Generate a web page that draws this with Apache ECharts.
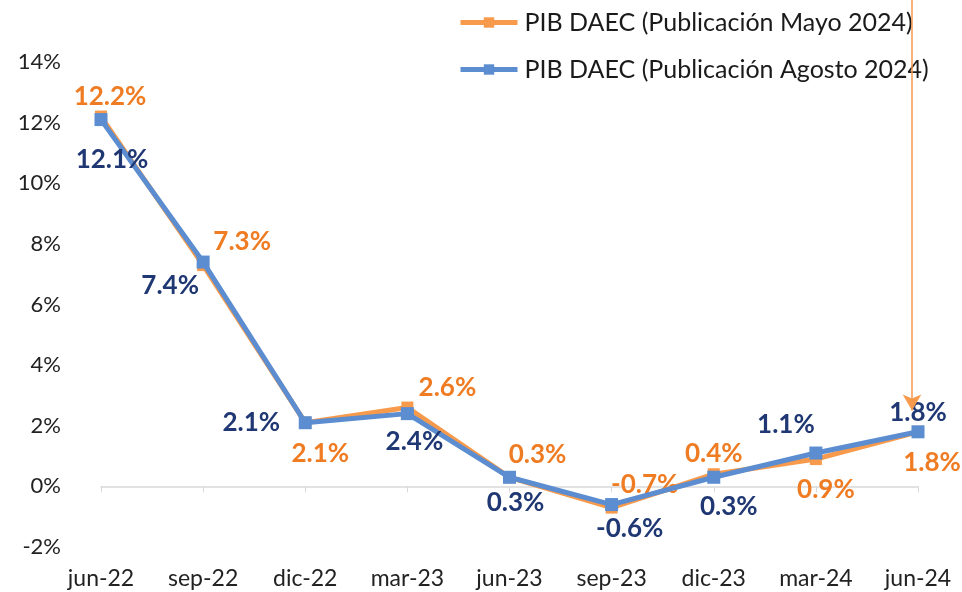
<!DOCTYPE html>
<html>
<head>
<meta charset="utf-8">
<script src="https://cdn.jsdelivr.net/npm/echarts@6/dist/echarts.min.js"></script>
<style>
  html, body { margin: 0; padding: 0; background: #fff; }
  #main { width: 962px; height: 592px; }
</style>
</head>
<body>
<div id="main"></div>
<script>
    // data
    var quarters = ['jun-22', 'sep-22', 'dic-22', 'mar-23', 'jun-23', 'sep-23', 'dic-23', 'mar-24', 'jun-24'];
    var pibMayo = [12.2, 7.3, 2.1, 2.6, 0.3, -0.7, 0.4, 0.9, 1.8];
    var pibAgosto = [12.1, 7.4, 2.1, 2.4, 0.3, -0.6, 0.3, 1.1, 1.8];
    var seriesNames = ['PIB DAEC (Publicación Mayo 2024)', 'PIB DAEC (Publicación Agosto 2024)'];

    // label offsets (px) from each point, picked to match the layout
    var mayoOffsets = [[9, -20], [39, -23], [15, 31], [40, -20], [28, -23], [33, -23], [0, -21], [10, 31], [14, 31]];
    var agostoOffsets = [[11, 40], [-33, 24], [-54, 0], [7, 28], [6, 25], [18, 24], [15, 29], [-30, -28], [0, -19]];

    var fontFam = 'Lato, "Noto Sans", sans-serif';
    var orangeLine = '#F79A4B';
    var orangeText = '#EF7C22';
    var blueLine = '#5B8DD0';
    var blueText = '#1F3773';

    var myChart = echarts.init(document.getElementById('main'));

    function buildData(values, offsets, color) {
        return values.map(function (v, i) {
            return {
                value: v,
                label: {
                    show: true,
                    position: 'inside',
                    offset: offsets[i],
                    formatter: function (p) { return p.value.toFixed(1) + '%'; },
                    color: color,
                    fontWeight: 'bold',
                    fontSize: 26,
                    fontFamily: fontFam
                }
            };
        });
    }

    var option = {
        backgroundColor: '#fff',
        animation: false,
        legend: {
            orient: 'vertical',
            left: 453,
            top: 5,
            itemWidth: 57,
            itemHeight: 13,
            itemGap: 22,
            lineStyle: { width: 5 },
            textStyle: { fontSize: 25, color: '#1a1a1a', fontFamily: fontFam, padding: [0, 0, 0, 2] },
            data: seriesNames
        },
        grid: { left: 101, right: 44, top: 62, bottom: 45 },
        xAxis: [{
            type: 'category',
            data: quarters,
            boundaryGap: false,
            axisLine: { show: false, onZero: false },
            axisTick: { show: false },
            axisLabel: { fontSize: 23, color: '#222', margin: 20, fontFamily: fontFam }
        }, {
            type: 'category',
            data: quarters,
            position: 'bottom',
            boundaryGap: false,
            axisLine: { show: true, onZero: true, lineStyle: { color: '#d9d9d9', width: 1.5 } },
            axisTick: { show: true, length: 6, lineStyle: { color: '#d9d9d9' } },
            axisLabel: { show: false }
        }],
        yAxis: {
            type: 'value',
            min: -2,
            max: 14,
            interval: 2,
            splitLine: { show: false },
            axisLine: { show: false },
            axisTick: { show: false },
            axisLabel: {
                formatter: '{value}%',
                fontSize: 22,
                color: '#222',
                margin: 40,
                fontFamily: fontFam
            }
        },
        series: [{
            name: seriesNames[0],
            type: 'line',
            data: buildData(pibMayo, mayoOffsets, orangeText),
            symbol: 'rect',
            symbolSize: 12,
            lineStyle: { color: orangeLine, width: 5 },
            itemStyle: { color: orangeLine },
            z: 2
        }, {
            name: seriesNames[1],
            type: 'line',
            data: buildData(pibAgosto, agostoOffsets, blueText),
            symbol: 'rect',
            symbolSize: 13,
            lineStyle: { color: blueLine, width: 5 },
            itemStyle: { color: blueLine },
            z: 3
        }]
    };

    myChart.setOption(option);

    // arrow from the top of the picture down to the last quarter
    var lastX = myChart.convertToPixel({ xAxisIndex: 0 }, quarters[quarters.length - 1]) - 6;
    myChart.setOption({
        series: [{
            name: seriesNames[0],
            markLine: {
                silent: true,
                symbol: ['none', 'arrow'],
                symbolSize: [14, 16],
                label: { show: false },
                lineStyle: { color: orangeLine, width: 1.5, type: 'solid' },
                data: [[
                    { x: lastX, y: 0 },
                    { x: lastX, y: myChart.convertToPixel({ yAxisIndex: 0 }, 2.5) }
                ]]
            }
        }]
    });
</script>
</body>
</html>
